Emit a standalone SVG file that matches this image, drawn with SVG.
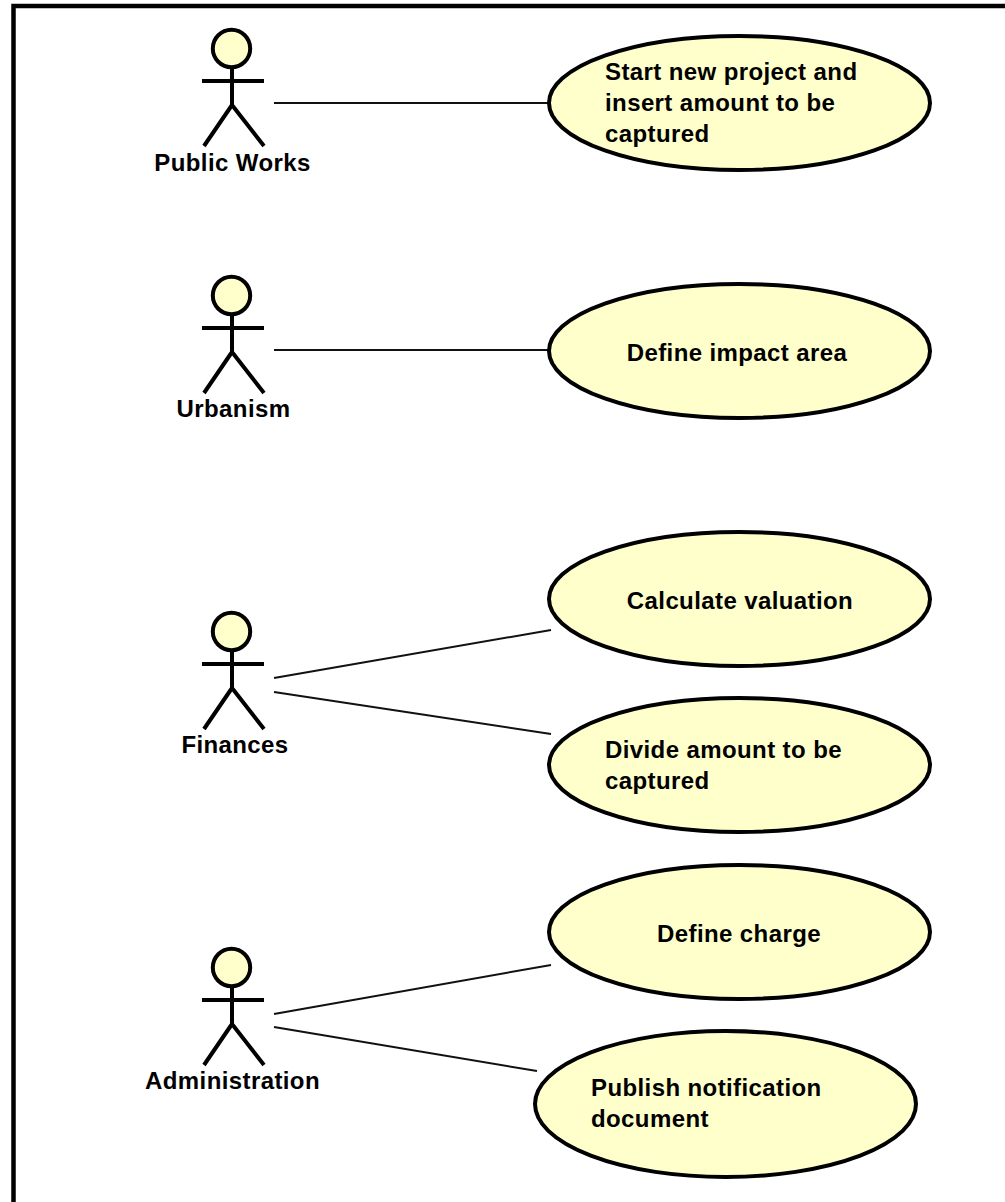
<svg xmlns="http://www.w3.org/2000/svg" width="1005" height="1202" viewBox="0 0 1005 1202">
<style>
.b{fill:none;stroke:#000;stroke-width:4}
.h{fill:#ffffcc;stroke:#000;stroke-width:4}
.c{fill:none;stroke:#111;stroke-width:2}
text{font-family:"Liberation Sans",Arial,sans-serif;font-size:24px;font-weight:bold;letter-spacing:.4px;fill:#000;stroke:none}
.m{text-anchor:middle}
</style>
<rect width="1005" height="1202" fill="#fff"/>
<path d="M13.5 1202V6H1005" fill="none" stroke="#000" stroke-width="4.5"/>
<defs>
<g id="actor"><circle class="h" cx="231.5" cy="48.5" r="18.7"/><path class="b" d="M232 68V105M202 81H264M232 105L204 146M232 105L264 146"/></g>
</defs>
<g id="connectors">
<path class="c" d="M274 103H549M274 350H549M274 678L551 630M274 692L551 734M274 1014L551 965M274 1027L537 1071"/>
</g>
<g id="actor-public-works"><use href="#actor"/><text class="m" x="232.5" y="171">Public Works</text></g>
<g id="actor-urbanism"><use href="#actor" y="247"/><text class="m" x="233.5" y="417">Urbanism</text></g>
<g id="actor-finances"><use href="#actor" y="583"/><text class="m" x="235" y="753">Finances</text></g>
<g id="actor-administration"><use href="#actor" y="919"/><text class="m" x="232.5" y="1089">Administration</text></g>
<g id="uc-start"><ellipse class="h" cx="739.5" cy="103" rx="190.5" ry="67"/><text x="605" y="80">Start new project and</text><text x="605" y="111">insert amount to be</text><text x="605" y="142">captured</text></g>
<g id="uc-impact"><ellipse class="h" cx="739.5" cy="351" rx="190.5" ry="67"/><text class="m" x="737" y="361">Define impact area</text></g>
<g id="uc-valuation"><ellipse class="h" cx="739.5" cy="599" rx="190.5" ry="67"/><text class="m" x="740" y="609">Calculate valuation</text></g>
<g id="uc-divide"><ellipse class="h" cx="739.5" cy="765" rx="190.5" ry="67"/><text x="605" y="758">Divide amount to be</text><text x="605" y="789">captured</text></g>
<g id="uc-charge"><ellipse class="h" cx="739.5" cy="932" rx="190.5" ry="67"/><text class="m" x="739" y="942">Define charge</text></g>
<g id="uc-publish"><ellipse class="h" cx="725.5" cy="1104" rx="190.5" ry="73"/><text x="591" y="1096">Publish notification</text><text x="591" y="1127">document</text></g>
</svg>
